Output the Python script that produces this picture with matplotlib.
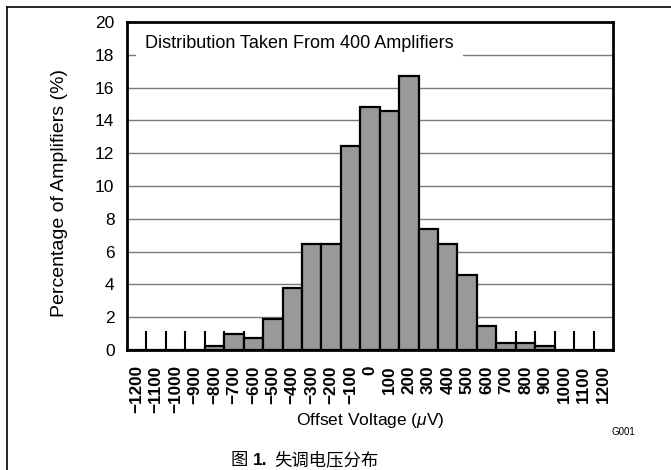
import matplotlib
matplotlib.use("Agg")
import matplotlib.pyplot as plt
import numpy as np
from matplotlib.lines import Line2D

plt.rcParams['font.family'] = ['Liberation Sans', 'Noto Sans CJK SC', 'DejaVu Sans']
plt.rcParams['mathtext.fontset'] = 'custom'
plt.rcParams['mathtext.rm'] = 'Liberation Sans'
plt.rcParams['mathtext.it'] = 'Liberation Sans:italic'

# ---- data ----
bin_labels = ['\u22121200', '\u22121100', '\u22121000', '\u2212900', '\u2212800', '\u2212700',
              '\u2212600', '\u2212500', '\u2212400', '\u2212300', '\u2212200', '\u2212100',
              '0', '100', '200', '300', '400', '500', '600', '700', '800', '900',
              '1000', '1100', '1200']
percent = [0, 0, 0, 0, 0.25, 1.0, 0.75, 1.9, 3.8, 6.45, 6.45, 12.45,
           14.8, 14.55, 16.7, 7.4, 6.45, 4.55, 1.45, 0.45, 0.45, 0.25, 0, 0, 0]
y_ticks = [0, 2, 4, 6, 8, 10, 12, 14, 16, 18, 20]
annotation = 'Distribution Taken From 400 Amplifiers'
x_title = r'Offset Voltage ($\mu$V)'
y_title = 'Percentage of Amplifiers (%)'

W, H = 671, 470
fig = plt.figure(figsize=(W / 100, H / 100), dpi=100)
fs = 12.5

ax = fig.add_axes([127 / W, (H - 350) / H, 486 / W, 328 / H])
x = np.arange(len(percent))
ax.set_xlim(-0.5, len(percent) - 0.5)
ax.set_ylim(0, 20)

# grid
for yv in y_ticks[1:-1]:
    ax.axhline(yv, color='#7a7a7a', lw=1.0, zorder=1)

# internal ticks at bin boundaries
ax.vlines(np.arange(0.5, len(percent) - 1), 0, 1.15, color='black', lw=1.5, zorder=2)

ax.bar(x, percent, width=1.0, color='#999999', edgecolor='black', linewidth=1.6, zorder=3)

ax.set_yticks(y_ticks)
ax.set_yticklabels([str(v) for v in y_ticks], fontsize=fs)
ax.set_xticks(x)
ax.set_xticklabels(bin_labels, rotation=90, fontsize=12.3, fontweight='bold')
ax.tick_params(axis='both', length=0)
ax.tick_params(axis='y', pad=9)
ax.tick_params(axis='x', pad=11)
for s in ax.spines.values():
    s.set_linewidth(2.0)
    s.set_zorder(5)

ax.text(18 / 486, (350 - 44) / 328, annotation, transform=ax.transAxes, fontsize=13,
        ha='left', va='center', zorder=4,
        bbox=dict(facecolor='white', edgecolor='none', boxstyle='square,pad=0.5'))

fig.text(370 / W, 1 - 421 / H, x_title, fontsize=fs, ha='center', va='center')
fig.text(59 / W, 1 - 193 / H, y_title, rotation=90, fontsize=14, ha='center', va='center')

fig.text(623 / W, 1 - 432 / H, 'G001', fontsize=7, ha='center', va='center')

# frame lines
fig.add_artist(Line2D([7 / W, 1.0], [1 - 7 / H, 1 - 7 / H], transform=fig.transFigure,
                      color='black', lw=1.2))
fig.add_artist(Line2D([7 / W, 7 / W], [0, 1 - 7 / H], transform=fig.transFigure,
                      color='black', lw=1.2))

# caption with bold number
fig.canvas.draw()
r = fig.canvas.get_renderer()
cap_fs = 12.5
xpix = 231
base = H - 465
pieces = [('图', 'normal', 5), ('1.', 'bold', 6), ('失调电压分布', 'normal', 0)]
for txt, wt, gap in pieces:
    t = fig.text(xpix / W, base / H, txt, fontsize=cap_fs, fontweight=wt,
                 family=['Liberation Sans', 'Noto Sans CJK SC'], ha='left', va='baseline')
    bb = t.get_window_extent(renderer=r)
    xpix += bb.width + gap

fig.savefig('out.png', dpi=100)
